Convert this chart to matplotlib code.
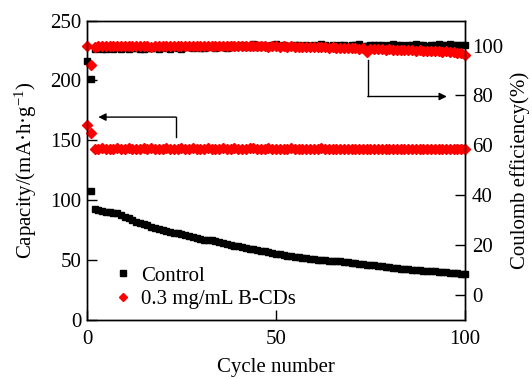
import numpy as np
import matplotlib
matplotlib.use("Agg")
import matplotlib.pyplot as plt

plt.rcParams['font.family'] = ['Liberation Serif', 'DejaVu Serif']
plt.rcParams['mathtext.fontset'] = 'custom'
plt.rcParams['mathtext.rm'] = 'Liberation Serif'
plt.rcParams['mathtext.it'] = 'Liberation Serif:italic'

# ---- data ----
control_cap = [
    107.8, 92.5, 91.8, 91.2, 90.8, 90.3, 89.8, 89.3, 88.0, 86.5,
    85.0, 83.5, 82.3, 81.5, 80.6, 79.2, 78.0, 77.2, 76.5, 75.3,
    74.4, 73.8, 73.2, 72.6, 72.0, 71.3, 70.4, 69.4, 68.5, 67.8,
    67.4, 67.1, 66.8, 66.0, 65.0, 64.2, 63.6, 63.0, 62.4, 61.8,
    61.2, 60.5, 59.9, 59.4, 58.8, 58.2, 57.6, 57.0, 56.3, 55.7,
    55.1, 54.6, 54.1, 53.6, 53.2, 52.8, 52.3, 51.8, 51.4, 51.1,
    50.8, 50.5, 50.2, 49.9, 49.6, 49.4, 49.2, 48.9, 48.5, 48.1,
    47.7, 47.3, 46.9, 46.5, 46.2, 45.9, 45.6, 45.2, 44.8, 44.4,
    44.0, 43.6, 43.2, 42.9, 42.6, 42.3, 42.0, 41.8, 41.6, 41.4,
    41.2, 41.0, 40.7, 40.4, 40.1, 39.8, 39.5, 39.2, 38.9, 38.5,
]
control_cap_cycles = list(range(1, 101))

bcd_cap = [
    163.0, 156.5, 143.3, 143.1, 143.4, 143.2, 143.0, 143.3, 143.5, 143.2,
    143.1, 143.4, 143.2, 143.3, 143.0, 143.4, 143.2, 143.5, 143.3, 143.1,
    143.2, 143.4, 143.3, 143.0, 143.2, 143.5, 143.3, 143.2, 143.4, 143.1,
    143.3, 143.2, 143.4, 143.3, 143.1, 143.2, 143.5, 143.3, 143.2, 143.4,
    143.0, 143.3, 143.2, 143.4, 143.6, 143.3, 143.1, 143.2, 143.4, 143.3,
    143.2, 143.0, 143.3, 143.2, 143.4, 143.1, 143.3, 143.2, 143.0, 143.3,
    143.1, 143.2, 143.4, 143.2, 143.0, 143.1, 143.3, 143.2, 143.0, 143.2,
    143.1, 142.9, 143.2, 143.0, 143.1, 143.3, 143.0, 142.9, 143.1, 143.2,
    143.0, 142.9, 143.1, 142.8, 143.0, 143.1, 142.9, 143.0, 142.8, 143.1,
    142.9, 143.0, 142.8, 143.0, 142.9, 142.7, 142.9, 143.0, 142.8, 142.9,
    142.8,
]

control_ce = [
    93.9, 86.7, 98.6, 98.9, 98.5, 98.8, 99.0, 98.6, 98.9, 98.7,
    99.0, 98.6, 98.9, 99.1, 98.7, 98.8, 99.2, 98.9, 99.0, 98.7,
    99.3, 99.0, 98.8, 99.4, 99.1, 98.7, 99.3, 99.5, 99.0, 99.6,
    99.2, 99.0, 99.8, 99.3, 99.1, 99.9, 99.4, 98.9, 100.4, 99.5,
    99.7, 100.2, 99.4, 99.8, 100.5, 99.6, 100.3, 99.9, 99.5, 100.1,
    100.6, 99.8, 100.2, 100.0, 99.7, 100.4, 100.1, 99.8, 100.3, 100.0,
    100.2, 99.9, 100.5, 100.1, 99.8, 100.3, 100.0, 100.4, 100.2, 99.9,
    100.3, 100.1, 100.6, 100.0, 99.8, 100.2, 100.4, 100.1, 100.3, 100.0,
    100.2, 100.5, 100.1, 100.3, 99.9, 100.4, 100.2, 100.6, 100.1, 100.3,
    100.0, 100.4, 100.2, 100.7, 100.3, 100.1, 100.5, 100.2, 100.4, 100.3,
    100.2,
]

bcd_ce = [
    100.0, 92.3, 99.6, 99.8, 99.7, 99.9, 99.8, 99.7, 99.9, 99.8,
    99.7, 99.9, 99.8, 99.8, 99.7, 99.9, 99.8, 99.6, 99.8, 99.9,
    99.8, 99.7, 99.9, 99.8, 99.7, 99.8, 99.9, 99.7, 99.8, 99.8,
    99.7, 99.9, 99.8, 99.7, 99.8, 99.9, 99.8, 99.7, 99.8, 99.7,
    99.8, 99.7, 99.9, 99.8, 99.7, 99.8, 99.7, 99.8, 99.6, 99.7,
    99.8, 99.6, 99.7, 99.6, 99.7, 99.5, 99.6, 99.5, 99.6, 99.4,
    99.5, 99.4, 99.3, 99.4, 99.2, 99.3, 99.1, 99.2, 99.0, 99.1,
    98.9, 99.0, 98.8, 98.9, 97.6, 98.6, 98.7, 98.5, 98.6, 98.4,
    98.5, 98.3, 98.4, 98.2, 98.3, 98.1, 98.2, 98.0, 98.1, 97.9,
    98.0, 97.8, 97.9, 97.7, 97.6, 97.7, 97.5, 97.3, 97.2, 96.9,
    96.2,
]
cycles0 = list(range(0, 101))

labels = ["Control", "0.3 mg/mL B-CDs"]
xticks = [0, 50, 100]
yticks_left = [0, 50, 100, 150, 200, 250]
yticks_right = [0, 20, 40, 60, 80, 100]

# ---- figure ----
fig = plt.figure(figsize=(5.32, 3.79), dpi=100)
ax = fig.add_axes([0.1635, 0.1544, 0.7105, 0.7915])
ax2 = ax.twinx()

FS = 15
ms_sq = 5.0
ms_d = 5.0

# CE on right axis (drawn first/under)
ax2.plot(cycles0, control_ce, ls='none', marker='s', ms=ms_sq, color='black',
         mec='black', clip_on=False, zorder=2)
ax2.plot(cycles0, bcd_ce, ls='none', marker='D', ms=ms_d, color='#ff0000',
         mec='#ff0000', clip_on=False, zorder=3)

ax.set_zorder(ax2.get_zorder() + 1)
ax.patch.set_visible(False)

ax.plot(control_cap_cycles, control_cap, ls='none', marker='s', ms=ms_sq,
        color='black', mec='black', clip_on=False, label=labels[0])
ax.plot(cycles0, bcd_cap, ls='none', marker='D', ms=ms_d, color='#ff0000',
        mec='#ff0000', clip_on=False, label=labels[1])

ax.set_xlim(0, 100)
ax.set_ylim(0, 250)
ax2.set_ylim(-10, 110)
ax.set_xticks(xticks)
ax.set_yticks(yticks_left)
ax2.set_yticks(yticks_right)

for a in (ax, ax2):
    a.tick_params(direction='in', length=7, width=1.0, labelsize=FS, pad=4)
    for s in a.spines.values():
        s.set_linewidth(1.0)
ax.tick_params(axis='x', pad=7)
ax2.tick_params(axis='y', pad=5)

ax.set_xlabel("Cycle number", fontsize=FS, labelpad=6)
ax.set_ylabel(r"Capacity/(mA·h·g$^{-1}$)", fontsize=FS, labelpad=8)
ax2.set_ylabel("Coulomb efficiency(%)", fontsize=FS, labelpad=5)

leg = ax.legend(loc='lower left', bbox_to_anchor=(0.04, -0.005), frameon=False,
                fontsize=FS, handlelength=0.8, handletextpad=0.45,
                labelspacing=0.2, markerscale=0.8, borderaxespad=0.2)

# arrows
ax.plot([23.5, 23.5], [152.5, 169.5], color='black', lw=1.0)
ax.annotate("", xy=(3.0, 169.5), xytext=(23.5, 169.5),
            arrowprops=dict(arrowstyle='-|>', color='black', lw=1.0,
                            mutation_scale=11, shrinkA=0, shrinkB=0))
ax2.plot([74.3, 74.3], [94.3, 79.6], color='black', lw=1.0)
ax2.annotate("", xy=(95.2, 79.6), xytext=(74.3, 79.6),
             arrowprops=dict(arrowstyle='-|>', color='black', lw=1.0,
                             mutation_scale=11, shrinkA=0, shrinkB=0))

fig.savefig("out.png", dpi=100)
